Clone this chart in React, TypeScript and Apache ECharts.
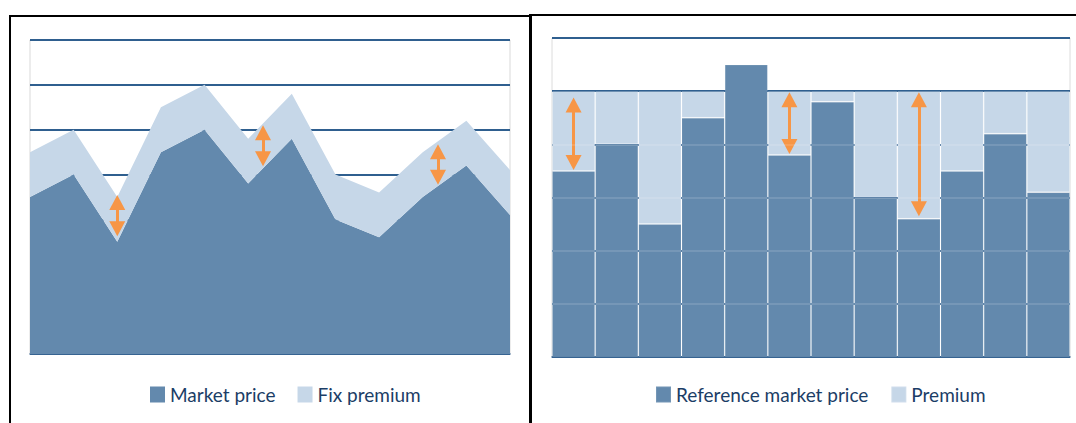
import React, { useEffect, useRef } from 'react';
import * as echarts from 'echarts';

// ---- data ----
const periods = ['P1', 'P2', 'P3', 'P4', 'P5', 'P6', 'P7', 'P8', 'P9', 'P10', 'P11', 'P12'];
const marketPrice = [3.5, 4.0, 2.5, 4.5, 5.0, 3.8, 4.8, 3.0, 2.6, 3.5, 4.2, 3.1];
const fixPremium = [1, 1, 1, 1, 1, 1, 1, 1, 1, 1, 1, 1];
const referencePrice = [3.5, 4.0, 2.5, 4.5, 5.5, 3.8, 4.8, 3.0, 2.6, 3.5, 4.2, 3.1];
const premium = [1.5, 1.0, 2.5, 0.5, 0, 1.2, 0.2, 2.0, 2.4, 1.5, 0.8, 1.9];
// arrows: [x position (period index), lower value, upper value] (arrow-head centres)
const leftArrows = [[2, 2.79, 3.38], [5.34, 4.35, 4.93], [9.35, 3.94, 4.51]];
const rightArrows = [[0, 3.66, 4.74], [5, 3.96, 4.84], [8, 2.79, 4.84]];
const leftAxisMax = 7;
const rightAxisMax = 6;

const DARK = '#6389ad';
const LIGHT = '#c6d7e8';
const GRIDLINE = '#2f5f8f';
const ORANGE = '#f79646';
const TEXT = '#1b3d66';

const arrowMarkLine = (arrows: number[][]) => ({
  silent: true,
  animation: false,
  symbol: ['triangle', 'triangle'],
  symbolSize: [16, 15],
  label: { show: false },
  emphasis: { disabled: true },
  lineStyle: { color: ORANGE, width: 3, type: 'solid', opacity: 1 },
  data: arrows.map(([x, a, b]) => [{ coord: [x, a] }, { coord: [x, b] }]),
});

export default function App() {
  const ref = useRef<HTMLDivElement>(null);
  useEffect(() => {
    const chart = echarts.init(ref.current!, null, { renderer: 'svg' });
    const legendCommon = {
      top: 385,
      padding: 0,
      icon: 'rect',
      itemWidth: 15,
      itemHeight: 16,
      itemGap: 22,
      selectedMode: false,
      textStyle: { fontFamily: 'Lato', fontSize: 19, color: TEXT },
    };
    const hiddenAxis = {
      axisLine: { show: false }, axisTick: { show: false }, axisLabel: { show: false }, splitLine: { show: false },
    };
    const option: any = {
      animation: false,
      backgroundColor: '#fff',
      graphic: [
        { type: 'rect', shape: { x: 9, y: 15, width: 2, height: 408 }, style: { fill: '#000' } },
        { type: 'rect', shape: { x: 9, y: 15, width: 521, height: 2 }, style: { fill: '#000' } },
        { type: 'rect', shape: { x: 529, y: 14, width: 3, height: 409 }, style: { fill: '#000' } },
        { type: 'rect', shape: { x: 529, y: 14, width: 547, height: 2 }, style: { fill: '#000' } },
      ],
      legend: [
        { ...legendCommon, left: 150, data: ['Market price', 'Fix premium'] },
        { ...legendCommon, left: 655, data: ['Reference market price', 'Premium'] },
      ],
      grid: [
        { left: 30, top: 40, width: 480, height: 314, show: true, borderColor: '#d9d9d9', borderWidth: 1, backgroundColor: 'transparent' },
        { left: 552, top: 38, width: 518, height: 319, show: true, borderColor: '#dcdcdc', borderWidth: 1, backgroundColor: 'transparent' },
      ],
      xAxis: [
        {
          gridIndex: 0, type: 'category', data: periods, boundaryGap: false,
          axisLine: { show: true, onZero: false, lineStyle: { color: '#3a6592', width: 1.5 } },
          axisTick: { show: false }, axisLabel: { show: false }, splitLine: { show: false },
        },
        {
          gridIndex: 1, type: 'category', data: periods,
          axisLine: { show: true, lineStyle: { color: '#3a6592', width: 1.5 } },
          axisTick: { show: false }, axisLabel: { show: false },
        },
        { gridIndex: 0, type: 'value', min: 0, max: periods.length - 1, ...hiddenAxis },
      ],
      yAxis: [
        {
          gridIndex: 0, type: 'value', min: 0, max: leftAxisMax, interval: 1,
          axisLine: { show: false }, axisTick: { show: false }, axisLabel: { show: false },
          splitLine: { show: true, lineStyle: { color: GRIDLINE, width: 2 } },
        },
        {
          gridIndex: 1, type: 'value', min: 0, max: rightAxisMax, interval: 1,
          axisLine: { show: false }, axisTick: { show: false }, axisLabel: { show: false },
          splitLine: { show: true, lineStyle: { color: GRIDLINE, width: 2 } },
        },
        {
          gridIndex: 1, type: 'value', min: 0, max: rightAxisMax, interval: 1, z: 10,
          axisLine: { show: false }, axisTick: { show: false }, axisLabel: { show: false },
          splitLine: {
            show: true,
            lineStyle: {
              color: ['rgba(0,0,0,0)', 'rgba(255,255,255,0.12)', 'rgba(255,255,255,0.12)', 'rgba(255,255,255,0.12)', 'rgba(255,255,255,0.12)', 'rgba(0,0,0,0)', 'rgba(0,0,0,0)'],
              width: 2,
            },
          },
        },
      ],
      series: [
        {
          name: 'Market price', type: 'line', xAxisIndex: 0, yAxisIndex: 0, stack: 'left',
          color: DARK, symbol: 'none', lineStyle: { width: 0, color: DARK },
          itemStyle: { color: DARK }, areaStyle: { color: DARK, opacity: 1 },
          data: marketPrice,
        },
        {
          name: 'Fix premium', type: 'line', xAxisIndex: 0, yAxisIndex: 0, stack: 'left',
          color: LIGHT, symbol: 'none', lineStyle: { width: 0, color: LIGHT },
          itemStyle: { color: LIGHT }, areaStyle: { color: LIGHT, opacity: 1 },
          data: fixPremium,
        },
        {
          name: 'Premium arrows', type: 'line', xAxisIndex: 2, yAxisIndex: 0, z: 5,
          symbol: 'none', lineStyle: { width: 0 }, data: [],
          markLine: arrowMarkLine(leftArrows),
        },
        {
          name: 'Reference market price', type: 'bar', xAxisIndex: 1, yAxisIndex: 1, stack: 'right',
          color: DARK, barCategoryGap: '0%',
          itemStyle: { color: DARK, borderColor: 'rgba(255,255,255,0.11)', borderWidth: 1 },
          data: referencePrice,
        },
        {
          name: 'Premium', type: 'bar', xAxisIndex: 1, yAxisIndex: 1, stack: 'right',
          color: LIGHT, barCategoryGap: '0%',
          itemStyle: { color: LIGHT, borderColor: 'rgba(255,255,255,0.18)', borderWidth: 1 },
          data: premium,
          markLine: arrowMarkLine(rightArrows),
        },
      ],
    };
    chart.setOption(option);
    return () => chart.dispose();
  }, []);
  return <div ref={ref} style={{ position: 'fixed', left: 0, top: 0, width: 1076, height: 423 }} />;
}
